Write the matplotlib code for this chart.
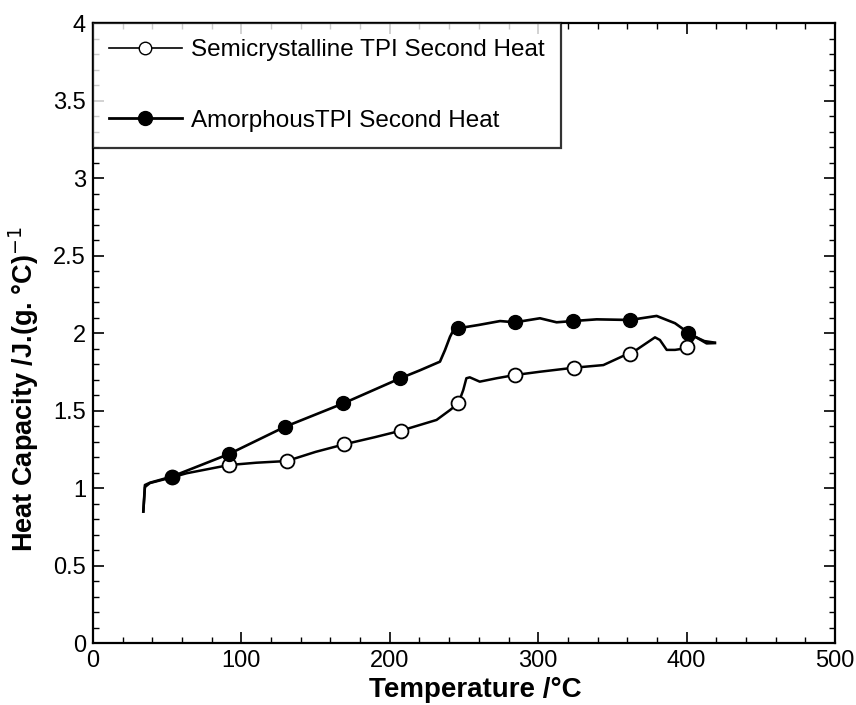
import matplotlib
matplotlib.use("Agg")
import matplotlib.pyplot as plt
from matplotlib.ticker import MultipleLocator

plt.rcParams['font.family'] = ['Liberation Sans', 'DejaVu Sans']

# Semicrystalline TPI second heat: traced curve
semi_T = [33.9, 35.0, 38.4, 53.0, 63.1, 91.6, 110.0, 130.6, 150.0, 169.4, 190.0, 207.6,
          231.5, 240.6, 246.2, 249.5, 251.6, 253.9, 260.6, 272.0, 284.4, 301.2, 324.1,
          343.9, 357.3, 362.0, 378.7, 382.0, 386.6, 392.2, 400.5, 405.6, 412.0, 419.0]
semi_cp = [0.85, 1.008, 1.034, 1.07, 1.097, 1.15, 1.165, 1.176, 1.235, 1.284, 1.33, 1.372,
           1.441, 1.505, 1.548, 1.634, 1.71, 1.716, 1.688, 1.71, 1.731, 1.752, 1.778,
           1.795, 1.854, 1.866, 1.974, 1.957, 1.893, 1.893, 1.905, 1.978, 1.95, 1.94]
# Semicrystalline marker points
semi_mT = [53.0, 91.6, 130.6, 169.4, 207.6, 246.2, 284.4, 324.1, 362.0, 400.5]
semi_mcp = [1.07, 1.15, 1.176, 1.284, 1.372, 1.548, 1.731, 1.778, 1.866, 1.914]

# Amorphous TPI second heat: traced curve
amor_T = [33.9, 35.0, 38.4, 53.0, 91.6, 129.4, 168.7, 207.1, 220.0, 233.8, 237.2, 240.6,
          242.6, 245.9, 260.0, 274.3, 284.4, 301.2, 312.4, 323.3, 339.4, 361.9, 379.8,
          392.2, 401.1, 413.5, 419.1]
amor_cp = [0.85, 1.021, 1.036, 1.075, 1.221, 1.397, 1.548, 1.71, 1.76, 1.817, 1.892, 1.978,
           2.015, 2.032, 2.054, 2.079, 2.071, 2.097, 2.071, 2.079, 2.09, 2.086, 2.112,
           2.065, 2.004, 1.935, 1.937]
amor_mT = [53.0, 91.6, 129.4, 168.7, 207.1, 245.9, 284.4, 323.3, 361.9, 401.1]
amor_mcp = [1.075, 1.221, 1.397, 1.548, 1.71, 2.032, 2.071, 2.079, 2.086, 2.004]

labels = ["Semicrystalline TPI Second Heat", "AmorphousTPI Second Heat"]
ytick_vals = [0, 0.5, 1, 1.5, 2, 2.5, 3, 3.5, 4]
ytick_labels = ['0', '0.5', '1', '1.5', '2', '2.5', '3', '3.5', '4']

fig = plt.figure(figsize=(8.56, 7.05), dpi=100)
ax = fig.add_axes([93/856, 1-643.3/705, (835-93)/856, (643.3-23.3)/705])

ax.plot(semi_T, semi_cp, color='black', lw=1.8)
ax.plot(semi_mT, semi_mcp, linestyle='none', marker='o', ms=10, mfc='white',
        mec='black', mew=1.3)
ax.plot(amor_T, amor_cp, color='black', lw=1.9)
ax.plot(amor_mT, amor_mcp, linestyle='none', marker='o', ms=10, mfc='black',
        mec='black')

# legend proxies
h1, = ax.plot([], [], color='black', lw=1.2, marker='o', ms=9, mfc='white', mec='black')
h2, = ax.plot([], [], color='black', lw=2.0, marker='o', ms=10, mfc='black', mec='black')
leg = ax.legend([h1, h2], labels, loc='upper left', bbox_to_anchor=(0, 1),
                borderaxespad=0, fontsize=17.5, frameon=True, fancybox=False,
                handlelength=3.0, handletextpad=0.4, labelspacing=2.0,
                borderpad=0.65, edgecolor='black', numpoints=1)
leg.get_frame().set_linewidth(1.6)

ax.set_xlim(0, 500)
ax.set_ylim(0, 4)
ax.xaxis.set_major_locator(MultipleLocator(100))
ax.xaxis.set_minor_locator(MultipleLocator(20))
ax.yaxis.set_minor_locator(MultipleLocator(0.1))
ax.set_yticks(ytick_vals)
ax.set_yticklabels(ytick_labels)
ax.tick_params(which='both', direction='in', top=True, right=True, labelsize=17)
ax.tick_params(which='major', length=8, width=1.2, pad=5)
ax.tick_params(which='minor', length=4, width=1.0)
for s in ax.spines.values():
    s.set_linewidth(1.6)

ax.set_xlabel("Temperature /°C", fontsize=20, fontweight='bold')
ax.set_ylabel("Heat Capacity /J.(g. °C)$^{-1}$", fontsize=19.5, fontweight='bold')
ax.xaxis.set_label_coords(0.515, -0.055)
ax.yaxis.set_label_coords(-0.07, 0.41)

fig.savefig("out.png", dpi=100)
